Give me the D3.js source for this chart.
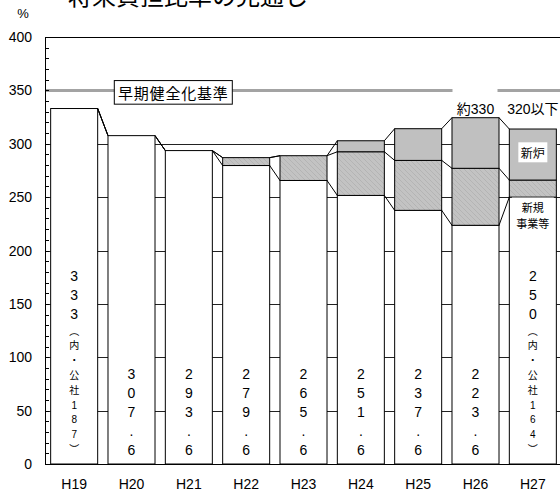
<!DOCTYPE html>
<html>
<head>
<meta charset="utf-8">
<script src="https://cdn.jsdelivr.net/npm/d3@7/dist/d3.min.js"></script>
<style>
  html, body { margin: 0; padding: 0; background: #fff; }
  svg { display: block; }
  text { font-family: "Liberation Sans", "Noto Sans CJK JP", sans-serif; fill: #000; }
  .jp { font-family: "Noto Sans CJK JP", sans-serif; }
</style>
</head>
<body>
<svg id="chart" width="560" height="493"></svg>
<script>
// 将来負担比率の見通し (%)
const categories = ["H19", "H20", "H21", "H22", "H23", "H24", "H25", "H26", "H27"];
const baseValues = [333, 307.6, 293.6, 279.6, 265.6, 251.6, 237.6, 223.6, 250];
const newProjectValues = [0, 0, 0, 7.4, 23.2, 40.9, 46.8, 53.4, 16];   // 新規事業等
const newReactorValues = [0, 0, 0, 0, 0, 10.3, 29.7, 47.4, 47.8];      // 新炉
const barLabels = ["333（内・公社187）", "307.6", "293.6", "279.6", "265.6",
                   "251.6", "237.6", "223.6", "250（内・公社164）"];
const yTicks = [0, 50, 100, 150, 200, 250, 300, 350, 400];
const yMinorTicks = d3.range(0, 401, 10);
const standardValue = 350;            // 早期健全化基準
const standardLabel = "早期健全化基準";
const peakLabels = [
  { cat: "H26", text: "約330" },
  { cat: "H27", text: "320以下" }
];

const svg = d3.select("#chart");
const plotLeft = 45, plotRight = 561, plotTop = 37, plotBottom = 464;

const x = d3.scaleBand().domain(categories).range([plotLeft, plotRight])
  .paddingInner(0.18).paddingOuter(0.09);
const y = d3.scaleLinear().domain([0, 400]).range([plotBottom, plotTop]);
const bw = x.bandwidth();

// hatched fill for 新規事業等
const defs = svg.append("defs");
const pat = defs.append("pattern").attr("id", "hatch")
  .attr("patternUnits", "userSpaceOnUse").attr("width", 5).attr("height", 5);
pat.append("rect").attr("width", 5).attr("height", 5).attr("fill", "#c3c3c3");
pat.append("path").attr("d", "M-1,-1 L1,1 M0,0 L5,5 M4,4 L6,6")
  .attr("stroke", "#b3b3b3").attr("stroke-width", 0.9);

// title (partly outside the top edge)
svg.append("text").attr("class", "jp").attr("x", 68).attr("y", 5)
  .attr("font-size", 24).text("将来負担比率の見通し");

svg.append("text").attr("x", 23).attr("y", 18).attr("text-anchor", "middle")
  .attr("font-size", 13).text("%");

// gridlines
svg.append("g").selectAll("line").data(yTicks.filter(d => d > 0 && d < 400)).join("line")
  .attr("x1", plotLeft).attr("x2", 560)
  .attr("y1", d => Math.round(y(d)) + 0.5).attr("y2", d => Math.round(y(d)) + 0.5)
  .attr("stroke", "#222").attr("stroke-width", 1);

// frame top
svg.append("line").attr("x1", plotLeft).attr("x2", 560)
  .attr("y1", Math.round(y(400)) + 0.5).attr("y2", Math.round(y(400)) + 0.5)
  .attr("stroke", "#000");

// standard line
svg.append("line").attr("x1", plotLeft).attr("x2", 560)
  .attr("y1", y(standardValue)).attr("y2", y(standardValue))
  .attr("stroke", "#a3a3a3").attr("stroke-width", 3);

// stacked bars
const rows = categories.map((c, i) => ({
  cat: c, base: baseValues[i], proj: newProjectValues[i], reactor: newReactorValues[i]
}));
const keys = ["base", "proj", "reactor"];
const fills = { base: "#ffffff", proj: "url(#hatch)", reactor: "#c0c0c0" };
const stack = d3.stack().keys(keys)(rows);

const gBars = svg.append("g");
stack.forEach(layer => {
  gBars.selectAll(null).data(layer.filter(d => d[1] - d[0] > 0)).join("rect")
    .attr("x", d => x(d.data.cat) + 0.5)
    .attr("y", d => y(d[1]))
    .attr("width", bw)
    .attr("height", d => y(d[0]) - y(d[1]))
    .attr("fill", fills[layer.key])
    .attr("stroke", "#000").attr("stroke-width", 1);
});

// series lines between neighbouring bars
const gSeries = svg.append("g");
stack.forEach(layer => {
  for (let i = 0; i < layer.length - 1; i++) {
    gSeries.append("line")
      .attr("x1", x(categories[i]) + bw + 0.5).attr("y1", y(layer[i][1]))
      .attr("x2", x(categories[i + 1]) + 0.5).attr("y2", y(layer[i + 1][1]))
      .attr("stroke", "#000").attr("stroke-width", 1);
  }
});

// y axis
svg.append("line").attr("x1", plotLeft + 0.5).attr("x2", plotLeft + 0.5)
  .attr("y1", y(400)).attr("y2", y(0)).attr("stroke", "#000");
svg.append("g").selectAll("line").data(yMinorTicks).join("line")
  .attr("x1", plotLeft).attr("x2", plotLeft + 4)
  .attr("y1", d => Math.round(y(d)) + 0.5).attr("y2", d => Math.round(y(d)) + 0.5)
  .attr("stroke", "#000");
svg.append("g").selectAll("text").data(yTicks).join("text")
  .attr("x", 32).attr("y", d => y(d)).attr("dy", "0.36em")
  .attr("text-anchor", "end").attr("font-size", 14).text(d => d);

// x axis
svg.append("line").attr("x1", plotLeft).attr("x2", 560)
  .attr("y1", Math.round(y(0)) + 0.5).attr("y2", Math.round(y(0)) + 0.5)
  .attr("stroke", "#000");
svg.append("g").selectAll("text").data(categories).join("text")
  .attr("x", d => x(d) + bw / 2 + 0.5).attr("y", 489)
  .attr("text-anchor", "middle").attr("font-size", 14).text(d => d);

// vertical value labels inside bars
const vert = { "（": "︵", "）": "︶" };
barLabels.forEach((label, i) => {
  const paren = label.indexOf("（");
  const chars = Array.from(label).map((ch, k) => ({
    ch: vert[ch] || ch,
    small: paren >= 0 && k >= paren
  }));
  const pos = [];
  let acc = 0;
  chars.forEach((c, k) => {
    if (k > 0) {
      const prev = chars[k - 1];
      acc += (prev.small && c.small) ? 14.8 : (!prev.small && !c.small ? 19 : 17);
    }
    pos.push(acc);
  });
  const shift = 449.5 - acc;
  const cx = x(categories[i]) + bw / 2 + 0.5;
  svg.append("g").selectAll("text").data(chars).join("text")
    .attr("x", cx).attr("y", (d, k) => pos[k] + shift)
    .attr("dominant-baseline", "central").attr("text-anchor", "middle")
    .attr("font-size", d => d.small ? 10 : 14)
    .text(d => d.ch);
});

// standard label box
const sx = 173.3, sy = y(standardValue) + 2;
svg.append("rect").attr("x", sx - 59).attr("y", sy - 11.8)
  .attr("width", 118).attr("height", 23.6)
  .attr("fill", "#fff").attr("stroke", "#000");
svg.append("text").attr("class", "jp").attr("x", sx).attr("y", sy)
  .attr("dominant-baseline", "central").attr("text-anchor", "middle")
  .attr("font-size", 15).attr("letter-spacing", 0.8).text(standardLabel);

// totals above H26 / H27
peakLabels.forEach((p, k) => {
  const cx = x(p.cat) + bw / 2 + 0.5;
  if (k === 0) {
    svg.append("rect").attr("x", cx - 23).attr("y", 88.5).attr("width", 45).attr("height", 27)
      .attr("fill", "#fff");
  }
  svg.append("text").attr("x", cx).attr("y", 109).attr("dominant-baseline", "central")
    .attr("text-anchor", "middle").attr("font-size", 14).text(p.text);
});

// segment names on the H27 bar
const lx = x("H27") + bw / 2 + 0.5;
svg.append("rect").attr("x", lx - 14.5).attr("y", 142.3).attr("width", 29).attr("height", 20)
  .attr("fill", "#fff");
svg.append("text").attr("class", "jp").attr("x", lx).attr("y", 152.5)
  .attr("dominant-baseline", "central").attr("text-anchor", "middle")
  .attr("font-size", 12).text("新炉");
svg.append("rect").attr("x", lx - 21).attr("y", 197.5).attr("width", 42).attr("height", 38.5)
  .attr("fill", "#fff");
svg.append("text").attr("class", "jp").attr("x", lx).attr("y", 207)
  .attr("dominant-baseline", "central").attr("text-anchor", "middle")
  .attr("font-size", 11).text("新規");
svg.append("text").attr("class", "jp").attr("x", lx).attr("y", 223)
  .attr("dominant-baseline", "central").attr("text-anchor", "middle")
  .attr("font-size", 11).text("事業等");
</script>
</body>
</html>
